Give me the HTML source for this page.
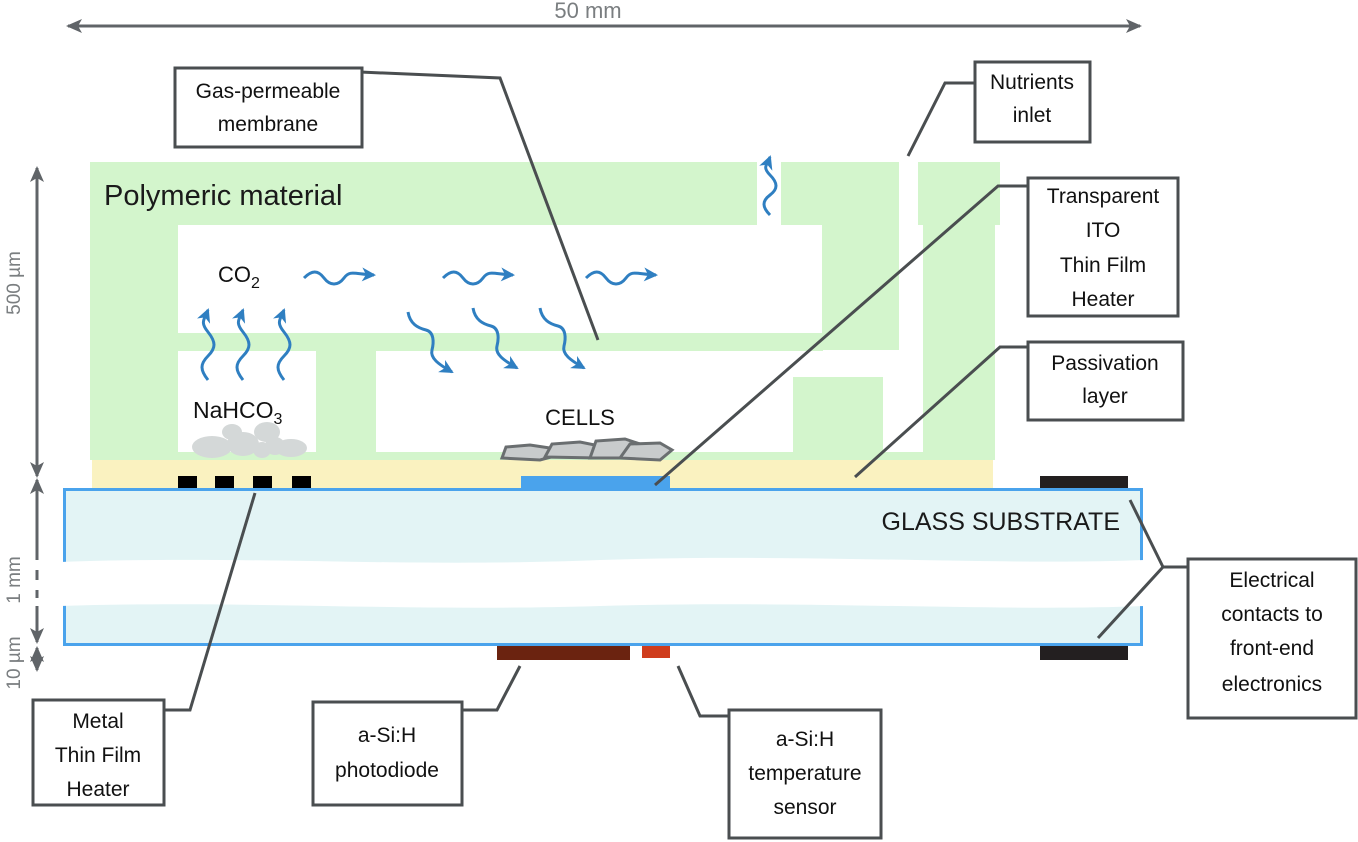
<!DOCTYPE html>
<html><head><meta charset="utf-8"><style>
html,body{margin:0;padding:0;background:#fff;}
svg{display:block;}
text{font-family:"Liberation Sans",sans-serif;}
</style></head><body>
<svg width="1358" height="842" viewBox="0 0 1358 842" xmlns="http://www.w3.org/2000/svg">
<defs>
<marker id="ah" markerWidth="18" markerHeight="18" refX="14" refY="7" orient="auto-start-reverse" markerUnits="userSpaceOnUse"><path d="M0,0 L16,7 L0,14 L4,7 Z" fill="#606468"/></marker>
<marker id="ab" markerWidth="18" markerHeight="18" refX="12" refY="7" orient="auto" markerUnits="userSpaceOnUse"><path d="M0,0 L14,7 L0,14 L4,7 Z" fill="#2f7fc1"/></marker>
</defs>
<!-- dimension 50 mm -->
<line x1="68" y1="26" x2="1140" y2="26" stroke="#606468" stroke-width="3" marker-start="url(#ah)" marker-end="url(#ah)"/>
<text x="588" y="18" font-size="22" fill="#7a7e80" text-anchor="middle">50 mm</text>
<!-- polymeric green -->
<g fill="#d3f5cc">
<rect x="90" y="162" width="667" height="63"/>
<rect x="781" y="162" width="118" height="63"/>
<rect x="918" y="162" width="82" height="63"/>
<rect x="90" y="162" width="88" height="296"/>
<rect x="822" y="225" width="77" height="125"/>
<rect x="923" y="225" width="72" height="233"/>
<rect x="178" y="333" width="645" height="18"/>
<rect x="316" y="333" width="60" height="125"/>
<rect x="944" y="350" width="51" height="108"/>
<rect x="793" y="377" width="90" height="81"/>
<rect x="90" y="452" width="905" height="8"/>
</g>
<text x="104" y="205" font-size="29" fill="#1a1a1a">Polymeric material</text>
<!-- passivation -->
<rect x="92" y="460" width="901" height="28" fill="#faf2c0"/>
<!-- glass -->
<rect x="64.5" y="489.5" width="1077" height="155" fill="#e3f4f5" stroke="#4aa3ec" stroke-width="3"/>
<path d="M60,562 C250,555 400,568 600,560 C800,553 1000,566 1145,560 L1145,606 C1000,612 800,600 600,606 C400,612 250,600 60,606 Z" fill="#fff"/>
<text x="1120" y="530" font-size="25" fill="#1a1a1a" text-anchor="end">GLASS SUBSTRATE</text>
<!-- pads -->
<g fill="#000">
<rect x="178" y="476" width="19" height="12"/><rect x="215" y="476" width="19" height="12"/>
<rect x="253" y="476" width="19" height="12"/><rect x="292" y="476" width="19" height="12"/>
</g>
<rect x="521" y="476" width="149" height="12" fill="#4aa3ec"/>
<rect x="1040" y="476" width="88" height="12" fill="#231f20"/>
<rect x="1040" y="646" width="88" height="14" fill="#231f20"/>
<rect x="497" y="646" width="133" height="14" fill="#6b2310"/>
<rect x="642" y="646" width="28" height="12" fill="#cf3d1d"/>
<!-- NaHCO3 grains -->
<g fill="#d4d8d8">
<ellipse cx="212" cy="447" rx="20" ry="11"/><ellipse cx="232" cy="432" rx="10" ry="8"/>
<ellipse cx="243" cy="444" rx="16" ry="12"/><ellipse cx="267" cy="432" rx="13" ry="10"/>
<ellipse cx="262" cy="450" rx="9" ry="8"/><ellipse cx="291" cy="448" rx="16" ry="9"/>
<ellipse cx="275" cy="446" rx="10" ry="9"/>
</g>
<!-- cells -->
<g fill="#c8cbcc" stroke="#6a6e70" stroke-width="3">
<path d="M502,458 L506,447 L530,445 L550,448 L555,456 L540,460 Z"/>
<path d="M545,457 L552,444 L580,442 L600,446 L598,458 Z"/>
<path d="M590,458 L596,441 L625,439 L640,444 L636,458 Z"/>
<path d="M620,458 L630,444 L660,443 L672,450 L660,460 Z"/>
</g>
<text x="580" y="425" font-size="22" fill="#111" text-anchor="middle">CELLS</text>
<text x="218" y="282" font-size="22" fill="#111">CO<tspan font-size="16" dy="6">2</tspan></text>
<text x="193" y="418" font-size="23" fill="#111">NaHCO<tspan font-size="16" dy="6">3</tspan></text>
<!-- wavy blue arrows -->
<g fill="none" stroke="#2f7fc1" stroke-width="3" marker-end="url(#ab)">
<path d="M304,278 c8,-8 14,-8 20,0 s14,8 20,0 s10,-4 30,-3"/>
<path d="M443,278 c8,-8 14,-8 20,0 s14,8 20,0 s10,-4 30,-3"/>
<path d="M586,278 c8,-8 14,-8 20,0 s14,8 20,0 s10,-4 30,-3"/>
<path d="M208,380 c-8,-10 -8,-16 0,-24 s8,-14 0,-24 s-4,-12 0,-22"/>
<path d="M243,380 c-8,-10 -8,-16 0,-24 s8,-14 0,-24 s-4,-12 0,-22"/>
<path d="M284,380 c-8,-10 -8,-16 0,-24 s8,-14 0,-24 s-4,-12 0,-22"/>
<path d="M770,215 c-8,-8 -8,-14 0,-20 s8,-12 0,-20 s-3,-10 0,-18"/>
<path d="M408,312 c2,12 10,16 18,18 s8,12 6,20 s6,14 20,22"/>
<path d="M473,308 c2,12 10,16 18,18 s8,12 6,20 s6,14 20,22"/>
<path d="M540,308 c2,12 10,16 18,18 s8,12 6,20 s6,14 20,22"/>
</g>
<!-- left dimension -->
<g stroke="#606468" stroke-width="3" fill="none">
<line x1="37" y1="168" x2="37" y2="476" marker-start="url(#ah)" marker-end="url(#ah)"/>
<line x1="37" y1="480" x2="37" y2="560" marker-start="url(#ah)"/>
<line x1="37" y1="570" x2="37" y2="580"/><line x1="37" y1="590" x2="37" y2="598"/>
<line x1="37" y1="606" x2="37" y2="642" marker-end="url(#ah)"/>
<line x1="37" y1="648" x2="37" y2="670" marker-start="url(#ah)" marker-end="url(#ah)"/>
</g>
<g font-size="19" fill="#7a7e80" text-anchor="middle">
<text transform="translate(20,283) rotate(-90)">500 µm</text>
<text transform="translate(20,580) rotate(-90)">1 mm</text>
<text transform="translate(20,663) rotate(-90)">10 µm</text>
</g>
<!-- leader lines -->
<g stroke="#4a4e50" stroke-width="3" fill="none">
<polyline points="360,72 500,78 598,340"/>
<polyline points="975,83 945,83 908,156"/>
<polyline points="1028,186 998,186 655,485"/>
<polyline points="1028,347 1000,347 855,477"/>
<polyline points="164,710 190,710 255,493"/>
<polyline points="462,710 497,710 520,666"/>
<polyline points="729,716 700,716 678,666"/>
<polyline points="1188,567 1163,567 1130,500"/>
<polyline points="1163,567 1098,638"/>
</g>
<!-- label boxes -->
<g fill="#fff" stroke="#4a4e50" stroke-width="3">
<rect x="175" y="68" width="187" height="79"/>
<rect x="975" y="62" width="115" height="80"/>
<rect x="1028" y="178" width="150" height="138"/>
<rect x="1028" y="342" width="155" height="78"/>
<rect x="1188" y="559" width="168" height="159"/>
<rect x="33" y="700" width="131" height="105"/>
<rect x="313" y="702" width="149" height="103"/>
<rect x="729" y="710" width="152" height="128"/>
</g>
<g font-size="21" fill="#111" text-anchor="middle">
<text x="268" y="98">Gas-permeable</text><text x="268" y="131">membrane</text>
<text x="1032" y="89">Nutrients</text><text x="1032" y="122">inlet</text>
<text x="1103" y="203">Transparent</text><text x="1103" y="237">ITO</text><text x="1103" y="272">Thin Film</text><text x="1103" y="306">Heater</text>
<text x="1105" y="370">Passivation</text><text x="1105" y="403">layer</text>
<text x="1272" y="587">Electrical</text><text x="1272" y="621">contacts to</text><text x="1272" y="655">front-end</text><text x="1272" y="691">electronics</text>
<text x="98" y="728">Metal</text><text x="98" y="762">Thin Film</text><text x="98" y="796">Heater</text>
<text x="387" y="742">a-Si:H</text><text x="387" y="777">photodiode</text>
<text x="805" y="746">a-Si:H</text><text x="805" y="780">temperature</text><text x="805" y="814">sensor</text>
</g>
</svg>
</body></html>
